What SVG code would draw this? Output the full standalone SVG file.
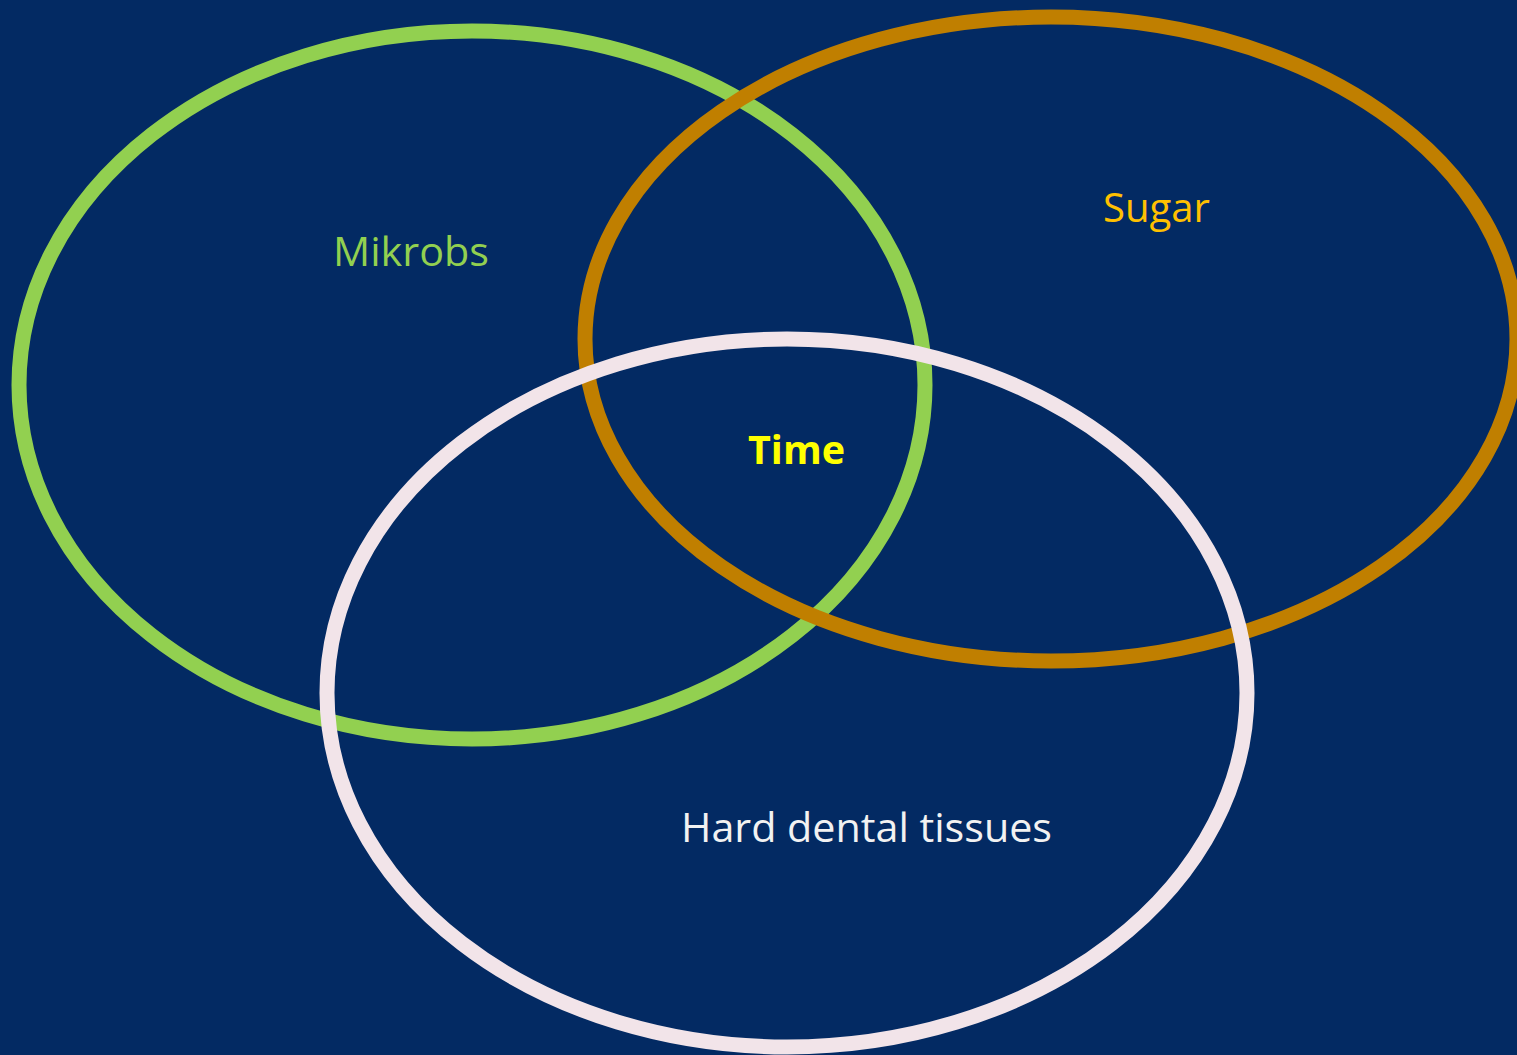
<svg xmlns="http://www.w3.org/2000/svg" width="1517" height="1055" viewBox="0 0 1517 1055">
<style>
.ring{fill:none;stroke-width:15}
.lbl{font-family:"Open Sans","Noto Sans",sans-serif;font-size:40px}
</style>
<rect width="1517" height="1055" fill="#032A63"/>
<g id="mikrobs">
<ellipse class="ring" cx="472" cy="385" rx="453" ry="354" stroke="#92D050"/>
<text class="lbl" x="333" y="266" fill="#92D050" textLength="156" lengthAdjust="spacingAndGlyphs">Mikrobs</text>
</g>
<g id="sugar">
<ellipse class="ring" cx="1051" cy="339" rx="466" ry="322" stroke="#C07F00"/>
<text class="lbl" x="1103" y="222" fill="#FFC000" textLength="107" lengthAdjust="spacingAndGlyphs">Sugar</text>
</g>
<g id="hard-dental-tissues">
<ellipse class="ring" cx="787" cy="693" rx="460" ry="354" stroke="#F2E4E9"/>
<text class="lbl" x="681" y="842" fill="#F2F2F2" textLength="371" lengthAdjust="spacingAndGlyphs">Hard dental tissues</text>
</g>
<g id="time">
<text class="lbl" x="748" y="464" fill="#FFFF00" font-weight="bold" textLength="97" lengthAdjust="spacingAndGlyphs">Time</text>
</g>
<g id="connectors"></g>
</svg>
